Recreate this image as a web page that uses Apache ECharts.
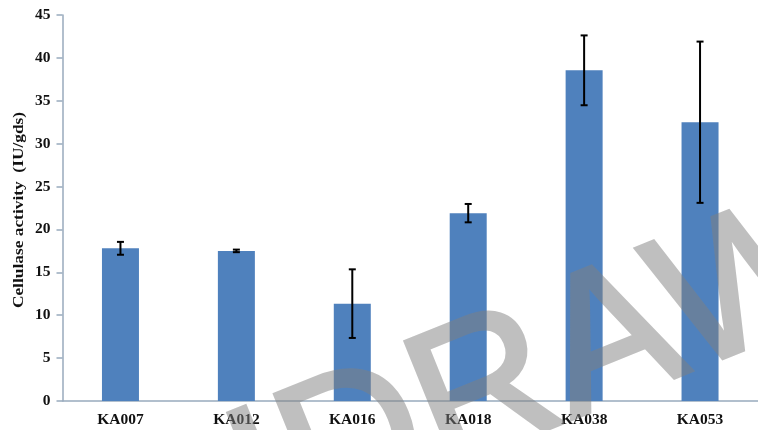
<!DOCTYPE html>
<html>
<head>
<meta charset="utf-8">
<script src="https://cdn.jsdelivr.net/npm/echarts@6/dist/echarts.min.js"></script>
<style>
  html, body { margin: 0; padding: 0; background: #ffffff; }
  #chart { width: 758px; height: 430px; }
</style>
</head>
<body>
<div id="chart"></div>
<script>
// Strains and their cellulase activity (IU/gds) with standard deviations
const strains = ['KA007', 'KA012', 'KA016', 'KA018', 'KA038', 'KA053'];
const activity = [17.8, 17.5, 11.35, 21.9, 38.55, 32.5];
const deviation = [0.75, 0.15, 4.0, 1.07, 4.07, 9.4];
const yTicks = { min: 0, max: 45, step: 5 };
const yTitle = 'Cellulase activity  (IU/gds)';
const watermarkText = 'WITHDRAWN';

const serif = '"Liberation Serif", "Times New Roman", serif';
const axisColor = '#98AABD';
const WATERMARK_LAYER = 5;

const errorData = strains.map((s, i) => [i, activity[i] - deviation[i], activity[i] + deviation[i]]);

const chart = echarts.init(document.getElementById('chart'), null, { renderer: 'canvas' });

chart.setOption({
  animation: false,
  backgroundColor: '#ffffff',
  grid: { left: 62.5, top: 15, width: 703, bottom: 29, containLabel: false },
  xAxis: {
    type: 'category',
    data: strains,
    axisLine: { lineStyle: { color: axisColor, width: 1.5 } },
    axisTick: { show: false },
    axisLabel: {
      margin: 11,
      color: '#111111',
      fontFamily: serif,
      fontWeight: 'bold',
      fontSize: 15.5
    }
  },
  yAxis: {
    type: 'value',
    min: yTicks.min,
    max: yTicks.max,
    interval: yTicks.step,
    splitLine: { show: false },
    axisLine: { show: true, lineStyle: { color: axisColor, width: 1.5 } },
    axisTick: { show: true, inside: false, length: 6, lineStyle: { color: axisColor, width: 1.5 } },
    axisLabel: {
      margin: 12,
      color: '#111111',
      fontFamily: serif,
      fontWeight: 'bold',
      fontSize: 15.5
    }
  },
  series: [
    {
      type: 'bar',
      data: activity,
      barWidth: 37,
      itemStyle: { color: '#4F81BD' },
      z: 2
    },
    {
      type: 'custom',
      data: errorData,
      z: 3,
      renderItem: function (params, api) {
        const x = api.value(0);
        const lo = api.coord([x, api.value(1)]);
        const hi = api.coord([x, api.value(2)]);
        const cap = 3.5;
        const style = { stroke: '#000000', lineWidth: 2 };
        return {
          type: 'group',
          children: [
            { type: 'line', shape: { x1: lo[0], y1: lo[1], x2: hi[0], y2: hi[1] }, style: style },
            { type: 'line', shape: { x1: lo[0] - cap, y1: lo[1], x2: lo[0] + cap, y2: lo[1] }, style: style },
            { type: 'line', shape: { x1: hi[0] - cap, y1: hi[1], x2: hi[0] + cap, y2: hi[1] }, style: style }
          ]
        };
      }
    }
  ],
  graphic: [
    {
      // vertical axis title, slightly elongated along its reading direction
      type: 'text',
      x: 19,
      y: 210,
      rotation: Math.PI / 2,
      scaleX: 1.24,
      silent: true,
      style: {
        text: yTitle,
        fill: '#111111',
        font: 'bold 14px ' + serif,
        textAlign: 'center',
        textVerticalAlign: 'middle'
      }
    },
    {
      // diagonal stamp, drawn opaque on its own layer; the layer is faded below
      type: 'text',
      x: 434,
      y: 522,
      rotation: 22 * Math.PI / 180,
      zlevel: WATERMARK_LAYER,
      silent: true,
      style: {
        text: watermarkText,
        fill: '#808080',
        stroke: '#808080',
        lineWidth: 4,
        lineJoin: 'round',
        font: '195px "Liberation Sans", Arial, sans-serif',
        textAlign: 'center',
        textVerticalAlign: 'bottom'
      }
    }
  ]
});

// fade the stamp layer as a whole so overlapping fill and outline stay uniform
const stampCanvas = chart.getDom().querySelector('canvas[data-zr-dom-id="zr_' + WATERMARK_LAYER + '"]');
if (stampCanvas) {
  stampCanvas.style.opacity = '0.5';
}
</script>
</body>
</html>
